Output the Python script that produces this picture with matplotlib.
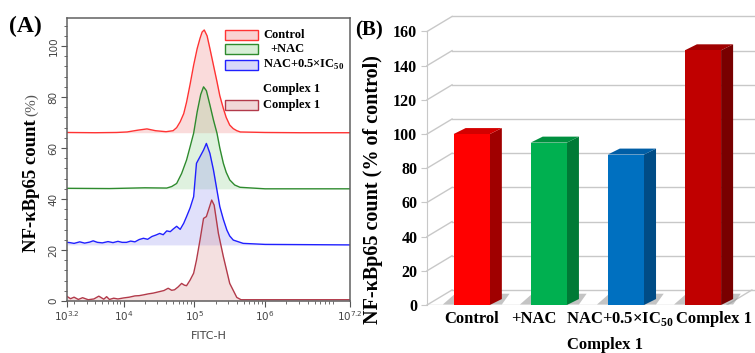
import numpy as np
import matplotlib
matplotlib.use('Agg')
from matplotlib import pyplot as plt
from matplotlib.patches import Polygon, Rectangle
from matplotlib.ticker import FixedLocator, MultipleLocator, LogLocator, NullFormatter

plt.rcParams['mathtext.fontset'] = 'custom'
plt.rcParams['mathtext.rm'] = 'Liberation Serif:bold'
plt.rcParams['mathtext.bf'] = 'Liberation Serif:bold'
plt.rcParams['mathtext.sf'] = 'DejaVu Sans'

SERIF = 'Liberation Serif'

## (A) flow cytometry histograms: log10(FITC-H) and count (%)
ctrl_lx = [3.2, 3.6, 3.9, 4.05, 4.2, 4.33, 4.45, 4.6, 4.70, 4.75, 4.80, 4.85, 4.89, 4.94,
           4.99, 5.04, 5.08, 5.11, 5.14, 5.18, 5.22, 5.27, 5.32, 5.36, 5.41, 5.45, 5.50,
           5.55, 5.60, 5.65, 6.0, 6.5, 7.2]
ctrl_y = [66.1, 66.0, 66.1, 66.3, 67.0, 67.5, 66.8, 66.4, 66.8, 68.0, 70.3, 73.5, 78, 85,
          92.5, 99, 103, 105.5, 106.3, 104, 99, 92.5, 86, 80.5, 75.5, 72, 69,
          67.6, 66.8, 66.3, 66.1, 66.0, 66.0]
ctrl_base = 66.0

nac_lx = [3.2, 3.8, 4.3, 4.61, 4.68, 4.75, 4.82, 4.89, 4.94, 4.99, 5.04, 5.09, 5.13, 5.17,
          5.22, 5.27, 5.32, 5.36, 5.41, 5.45, 5.50, 5.57, 5.645, 6.0, 7.2]
nac_y = [44.2, 44.1, 44.4, 44.3, 44.9, 46.1, 50, 55.3, 60.5, 65.8, 74.2, 81, 84.0, 82.5,
         76.9, 71, 65.8, 60, 54, 50.5, 47.5, 45.5, 44.6, 44.0, 44.0]
nac_base = 44.0

ic_lx = [3.2, 3.24, 3.3, 3.38, 3.45, 3.52, 3.57, 3.63, 3.7, 3.78, 3.85, 3.92, 3.98, 4.04, 4.1,
         4.16, 4.22, 4.28, 4.34, 4.4, 4.46, 4.51, 4.56, 4.61, 4.66, 4.7, 4.75, 4.8, 4.85, 4.89,
         4.94, 4.99, 5.03, 5.08, 5.13, 5.17, 5.22, 5.27, 5.31, 5.36, 5.41, 5.46, 5.50, 5.55,
         5.69, 6.0, 7.2]
ic_y = [23.0, 22.9, 22.6, 23.2, 22.7, 23.1, 23.6, 23.0, 22.8, 23.3, 22.9, 23.4, 23.0, 23.0, 23.5,
        23.2, 24.1, 24.6, 24.2, 25.3, 25.9, 26.5, 26.0, 27.5, 27.2, 28.2, 29.3, 28.1, 30.5, 33.1,
        36.5, 40.9, 54, 56.6, 59.2, 61.8, 57.9, 51.4, 45, 37, 32, 27.8, 25.5, 23.9,
        22.6, 22.2, 22.0]
ic_base = 22.0

cx_lx = [3.2, 3.25, 3.3, 3.36, 3.42, 3.5, 3.58, 3.65, 3.72, 3.76, 3.8, 3.86, 3.92, 4.0, 4.08,
         4.16, 4.22, 4.28, 4.35, 4.42, 4.51, 4.57, 4.63, 4.68, 4.72, 4.77, 4.82, 4.86, 4.89, 4.94,
         4.99, 5.03, 5.08, 5.13, 5.17, 5.20, 5.245, 5.28, 5.34, 5.41, 5.50, 5.60, 5.66, 6.0, 7.2]
cx_y = [1.8, 0.9, 1.5, 0.6, 1.3, 0.5, 0.8, 1.9, 0.7, 1.7, 0.6, 1.1, 0.8, 1.2, 1.5,
        2.0, 2.1, 2.4, 2.8, 3.1, 3.7, 4.1, 5.0, 4.2, 4.4, 5.5, 6.9, 6.2, 6.0, 8.2,
        10.9, 16, 23.9, 32.4, 33.1, 35.7, 39.6, 37.6, 26.5, 17.4, 6.9, 1.4, 0.5, 0.5, 0.5]
cx_base = 0.0

hist_labels = ['Control', '+NAC', 'NAC+0.5×IC$_{50}$', 'Complex 1']
xtick_exp = [3.2, 4, 5, 6, 7.2]
xtick_txt = ['3.2', '4', '5', '6', '7.2']

## (B) bar values (% of control)
categories = ['Control', '+NAC', 'NAC+0.5×IC$_{50}$', 'Complex 1']
values = [100, 95, 88, 149]

fig = plt.figure(figsize=(7.55, 3.53), dpi=100)

## ---------- panel A ----------
axA = fig.add_axes([67/755, 52/353, 283/755, 283/353])
series = [(ctrl_lx, ctrl_y, ctrl_base, '#ff3333', '#f08080'),
          (nac_lx, nac_y, nac_base, '#2e8b2e', '#8fcf8f'),
          (ic_lx, ic_y, ic_base, '#2020ff', '#9090ee'),
          (cx_lx, cx_y, cx_base, '#b23a4a', '#d89090')]
for lx, yy, base, lc, fc in series:
    xx = 10 ** np.array(lx)
    axA.fill_between(xx, base, yy, color=fc, alpha=0.28, lw=0)
    axA.plot(xx, yy, color=lc, lw=1.0)

axA.set_xscale('log')
axA.set_xlim(10 ** 3.2, 10 ** 7.2)
axA.set_ylim(0, 111)
axA.xaxis.set_major_locator(FixedLocator([10 ** e for e in xtick_exp]))
axA.set_xticklabels([r'$\mathsf{10}^{\mathsf{%s}}$' % t for t in xtick_txt])
axA.xaxis.set_minor_locator(LogLocator(base=10, subs=np.arange(2, 10), numticks=20))
axA.xaxis.set_minor_formatter(NullFormatter())
axA.set_yticks([0, 20, 40, 60, 80, 100])
axA.yaxis.set_minor_locator(MultipleLocator(4))
for lab in axA.get_yticklabels():
    lab.set_rotation(90)
    lab.set_va('center')
axA.tick_params(which='major', length=4, color='#555555', labelcolor='#444444',
                labelsize=7.5, pad=2)
axA.tick_params(which='minor', length=2, color='#555555')
for s in axA.spines.values():
    s.set_color('#606060')
    s.set_linewidth(1.1)
axA.set_xlabel('FITC-H', fontsize=8, color='#444444', labelpad=6)

# legend drawn by hand
leg_rows = [(0.94, 0), (0.89, 1), (0.834, 2), (0.693, 3)]
for yrow, i in leg_rows:
    lc, fc = series[i][3], series[i][4]
    axA.add_patch(Rectangle((0.558, yrow - 0.017), 0.117, 0.034, transform=axA.transAxes,
                            facecolor=fc, alpha=0.35, edgecolor='none'))
    axA.add_patch(Rectangle((0.558, yrow - 0.017), 0.117, 0.034, transform=axA.transAxes,
                            facecolor='none', edgecolor=lc, lw=1.0))
leg_kw = dict(transform=axA.transAxes, fontsize=9, fontweight='bold', family=SERIF, va='center')
axA.text(0.693, 0.94, 'Control', **leg_kw)
axA.text(0.717, 0.89, '+NAC', **leg_kw)
axA.text(0.693, 0.834, hist_labels[2], **leg_kw)
axA.text(0.693, 0.749, 'Complex 1', **leg_kw)
axA.text(0.693, 0.693, 'Complex 1', **leg_kw)

fig.text(0.012, 0.925, '(A)', fontsize=17, fontweight='bold', family=SERIF, va='center')
ylabA = fig.text(0.042, 52/353 + 0.14, 'NF-κBp65 count', rotation=90, fontsize=13.5,
                 fontweight='bold', family=SERIF, ha='center', va='bottom')
fig.canvas.draw()
bb = ylabA.get_window_extent()
fig.text(0.042, (bb.y1 + 3) / fig.bbox.height, '(%)', rotation=90, fontsize=11,
         family=SERIF, color='#555555', ha='center', va='bottom')

## ---------- panel B ----------
axB = fig.add_axes([427/755, 48/353, 328/755, 300/353])
pos = np.arange(len(values))
w = 0.47
dx, dy = 0.156, 3.5          # bar depth
dxw, dyw = 0.325, 8.8        # wall depth
x0, xf, x1 = -0.58, 3.31, 3.675
axB.set_xlim(x0, x1)
axB.set_ylim(0, 175.5)

grid_c = '#c8c8c8'
for t in range(0, 161, 20):
    axB.plot([x0, x0 + dxw], [t, t + dyw], color=grid_c, lw=1.0, zorder=1, clip_on=False)
    axB.plot([x0 + dxw, x1], [t + dyw, t + dyw], color=grid_c, lw=1.0, zorder=1, clip_on=False)
axB.plot([x0, xf], [0, 0], color=grid_c, lw=1.0, zorder=1)
axB.plot([xf, xf + dxw], [0, dyw], color=grid_c, lw=1.0, zorder=1)

front = ['#ff0000', '#00b050', '#0070c0', '#c00000']
top = ['#d40000', '#00903f', '#005ea6', '#a00000']
side = ['#a00000', '#007a36', '#004c86', '#780000']
for i, v in enumerate(values):
    xl, xr = pos[i] - w / 2, pos[i] + w / 2
    axB.add_patch(Polygon([(xl - 0.14, 0.3), (xr + dx, 0.3), (xr + dx + 0.1, dyw * 0.75),
                           (xl + 0.02, dyw * 0.75)], closed=True, facecolor='#8a8a8a',
                          alpha=0.5, lw=0, zorder=2))
    axB.add_patch(Polygon([(xr, 0), (xr + dx, dy), (xr + dx, v + dy), (xr, v)], closed=True,
                          facecolor=side[i], lw=0, zorder=3))
    axB.add_patch(Polygon([(xl, v), (xr, v), (xr + dx, v + dy), (xl + dx, v + dy)], closed=True,
                          facecolor=top[i], lw=0, zorder=3))
axB.bar(pos, values, width=w, color=front, zorder=4)

for s in ['top', 'right', 'bottom']:
    axB.spines[s].set_visible(False)
axB.spines['left'].set_color(grid_c)
axB.spines['left'].set_bounds(0, 160)
axB.set_yticks(range(0, 161, 20))
axB.set_xticks([])
axB.tick_params(axis='y', length=4, color=grid_c, pad=3)
for lab in axB.get_yticklabels():
    lab.set_family(SERIF)
    lab.set_fontweight('bold')
    lab.set_fontsize(11.5)

# category labels as typed under the bars (not centred in the original)
label_shift = [0.0, -0.195, -0.08, 0.14]
for i, name in enumerate(categories):
    axB.text(pos[i] + label_shift[i], -7.9, name, ha='center', va='center', family=SERIF,
             fontweight='bold', fontsize=12)
axB.text(1.73, -23.5, 'Complex 1', ha='center', va='center', family=SERIF,
         fontweight='bold', fontsize=12)

fig.text(0.47, 0.915, '(B)', fontsize=15, fontweight='bold', family=SERIF, va='center')
fig.text(0.494, 0.462, 'NF-κBp65 count (% of control)', rotation=90, fontsize=14.5,
         fontweight='bold', family=SERIF, ha='center', va='center')

fig.savefig('out.png', dpi=100)
